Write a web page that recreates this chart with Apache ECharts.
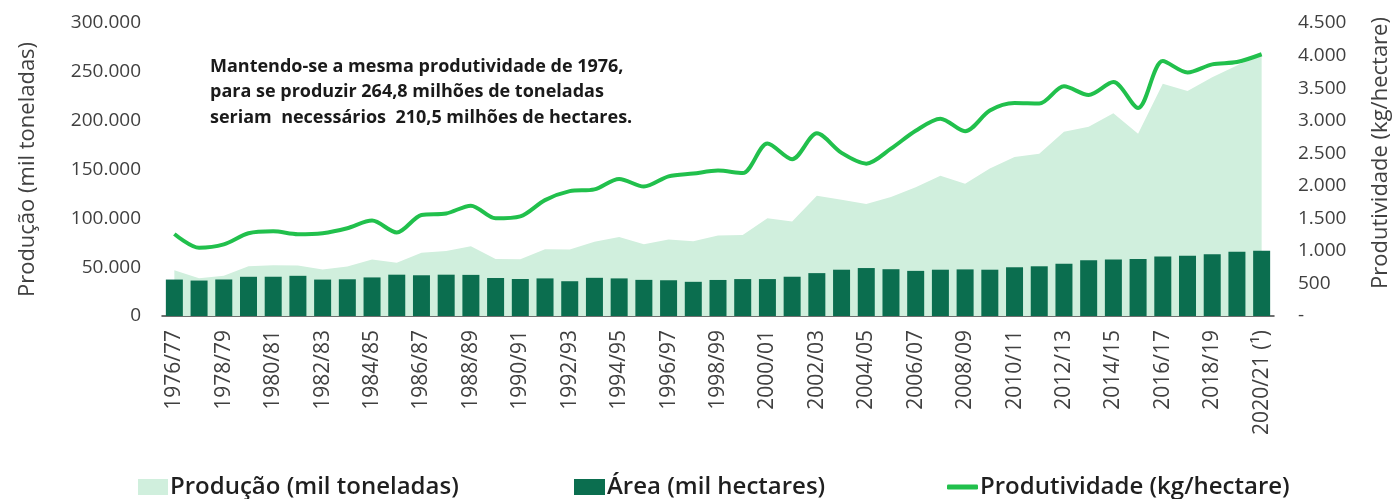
<!DOCTYPE html>
<html>
<head>
<meta charset="utf-8">
<script src="https://cdn.jsdelivr.net/npm/echarts@6/dist/echarts.min.js"></script>
<style>
  html, body { margin: 0; padding: 0; background: #fff; }
  #chart { width: 1400px; height: 499px; }
</style>
</head>
<body>
<div id="chart"></div>
<script>
// safras (1976/77 .. 2020/21)
const categories = [
  "1976/77", "1977/78", "1978/79", "1979/80", "1980/81", "1981/82", "1982/83", "1983/84", "1984/85", "1985/86",
  "1986/87", "1987/88", "1988/89", "1989/90", "1990/91", "1991/92", "1992/93", "1993/94", "1994/95", "1995/96",
  "1996/97", "1997/98", "1998/99", "1999/00", "2000/01", "2001/02", "2002/03", "2003/04", "2004/05", "2005/06",
  "2006/07", "2007/08", "2008/09", "2009/10", "2010/11", "2011/12", "2012/13", "2013/14", "2014/15", "2015/16",
  "2016/17", "2017/18", "2018/19", "2019/20", "2020/21 (¹)"
];

// Produção (mil toneladas)
const producao = [
  46900, 38700, 41300, 51000, 52000, 51600, 47600, 50800, 57800, 54400,
  64700, 66500, 71300, 58300, 58000, 68400, 68200, 76000, 81000, 73500,
  78400, 76600, 82400, 83000, 100200, 96800, 123100, 119100, 114700, 121800,
  131700, 143700, 135300, 151000, 162800, 166100, 188700, 193700, 207700, 186600,
  237700, 230300, 244500, 256500, 268500
];

// Área (mil hectares)
const area = [
  37317, 36300, 37400, 40150, 40200, 41150, 37300, 37600, 39500, 42300,
  41700, 42300, 42100, 38900, 37900, 38500, 35600, 39100, 38500, 37000,
  36600, 35000, 36900, 37800, 37800, 40200, 43900, 47400, 49100, 47900,
  46200, 47400, 47700, 47400, 49900, 50900, 53600, 57100, 57900, 58300,
  60900, 61600, 63200, 65900, 66800
];

// Produtividade (kg/hectare)
const produtividade = [
  1260, 1048, 1100, 1270, 1300, 1255, 1272, 1348, 1465, 1282,
  1552, 1575, 1695, 1500, 1530, 1780, 1918, 1945, 2105, 1988,
  2145, 2188, 2233, 2195, 2650, 2408, 2805, 2505, 2340, 2570,
  2845, 3030, 2838, 3155, 3270, 3262, 3528, 3394, 3592, 3195,
  3915, 3740, 3865, 3900, 4020
];

const FONT = "'Open Sans', 'Noto Sans', sans-serif";
const fmt = v => String(v).replace(/\B(?=(\d{3})+(?!\d))/g, ".");

const chart = echarts.init(document.getElementById("chart"));

const legendText = { fontSize: 24, color: "#1f1f1f", fontFamily: FONT, fontWeight: 600, padding: [0, 0, 0, -3] };

chart.setOption({
  animation: false,
  textStyle: { fontFamily: FONT },
  grid: { left: 162, right: 122, top: 23, bottom: 183 },
  legend: [
    { data: [{ name: "Produção (mil toneladas)", icon: "rect" }], left: 133, top: 470,
      itemWidth: 30, itemHeight: 16, textStyle: legendText },
    { data: [{ name: "Área (mil hectares)", icon: "rect" }], left: 569, top: 470,
      itemWidth: 31, itemHeight: 16, textStyle: legendText },
    { data: [{ name: "Produtividade (kg/hectare)", icon: "roundRect" }], left: 942, top: 470,
      itemWidth: 31, itemHeight: 5, textStyle: legendText }
  ],
  xAxis: {
    type: "category",
    data: categories,
    axisTick: { show: false },
    axisLine: { lineStyle: { color: "#404040", width: 1.5 } },
    axisLabel: { rotate: 90, interval: 1, fontSize: 21, color: "#404040", margin: 14, fontFamily: FONT }
  },
  yAxis: [
    {
      type: "value", min: 0, max: 300000, interval: 50000,
      name: "Produção (mil toneladas)", nameLocation: "middle", nameGap: 123,
      nameTextStyle: { fontSize: 22, color: "#404040", fontFamily: FONT },
      splitLine: { show: false },
      axisLabel: { fontSize: 19, color: "#404040", margin: 21, fontFamily: FONT, formatter: v => fmt(v) }
    },
    {
      type: "value", min: 0, max: 4500, interval: 500, position: "right",
      name: "Produtividade (kg/hectare)", nameLocation: "middle", nameGap: 96,
      nameTextStyle: { fontSize: 22, color: "#404040", fontFamily: FONT, padding: [0, 0, 0, 33] },
      splitLine: { show: false },
      axisLabel: { fontSize: 19, color: "#404040", margin: 24, align: "left", fontFamily: FONT,
        formatter: v => (v === 0 ? "-" : fmt(v)) }
    }
  ],
  series: [
    {
      name: "Produção (mil toneladas)", type: "line", data: producao,
      symbol: "none", lineStyle: { width: 0 },
      itemStyle: { color: "#d0efdd" },
      areaStyle: { color: "#d0efdd", opacity: 1 }, z: 1
    },
    {
      name: "Área (mil hectares)", type: "bar", data: area,
      barWidth: 17, itemStyle: { color: "#0b6e4f" }, z: 2
    },
    {
      name: "Produtividade (kg/hectare)", type: "line", yAxisIndex: 1, data: produtividade,
      smooth: 0.3, symbol: "none", lineStyle: { width: 4, color: "#21c04c" },
      itemStyle: { color: "#21c04c" }, z: 3
    }
  ],
  graphic: [
    {
      type: "text", left: 210, top: 54,
      style: {
        text: "Mantendo-se a mesma produtividade de 1976,\npara se produzir 264,8 milhões de toneladas\nseriam  necessários  210,5 milhões de hectares.",
        fontSize: 18, fontWeight: "bold", lineHeight: 25.5, fill: "#1a1a1a", fontFamily: FONT
      }
    },
    {
      type: "text", left: 1033, top: 186,
      style: { text: "Poupança Agrícola", fontSize: 19.5, fill: "#262626", fontFamily: FONT }
    }
  ]
});
</script>
</body>
</html>
